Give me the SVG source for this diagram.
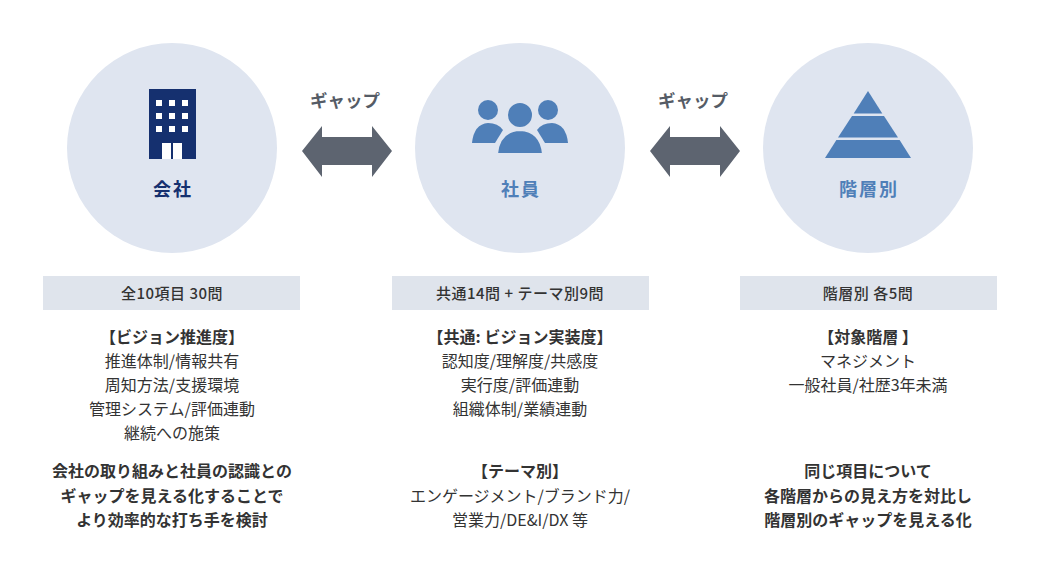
<svg xmlns="http://www.w3.org/2000/svg" width="1040" height="571" viewBox="0 0 1040 571">
<style>
text{font-family:"Noto Sans CJK JP","Noto Sans",sans-serif;text-anchor:middle;fill:#333}
.c{fill:#dfe5f0}
.t{font-size:18px;font-weight:bold;letter-spacing:2px}
.g{font-size:17.5px;font-weight:bold;fill:#555c66}
.bar{fill:#dfe4ec}
.h{font-size:15px;font-weight:500;letter-spacing:0.5px}
.b{font-size:16px;font-weight:bold}
.n{font-size:16px}
.w{fill:#fff}
</style>
<rect width="1040" height="571" fill="#fff"/>
<g id="company">
<circle class="c" cx="172" cy="148" r="105"/>
<rect x="149" y="89" width="47" height="70" fill="#15306f"/>
<g class="w">
<rect x="156" y="100" width="6" height="6"/><rect x="169" y="100" width="6" height="6"/><rect x="182" y="100" width="6" height="6"/>
<rect x="156" y="113" width="6" height="6"/><rect x="169" y="113" width="6" height="6"/><rect x="182" y="113" width="6" height="6"/>
<rect x="156" y="126" width="6" height="6"/><rect x="169" y="126" width="6" height="6"/><rect x="182" y="126" width="6" height="6"/>
<rect x="162" y="143" width="9" height="16"/><rect x="173" y="143" width="9" height="16"/>
</g>
<text class="t" x="173" y="196" style="fill:#15306f">会社</text>
</g>
<g id="employee">
<circle class="c" cx="520" cy="148" r="105"/>
<g fill="#4f7fb8">
<circle cx="488" cy="110" r="10"/><circle cx="548" cy="110" r="10"/>
<path d="M472 143 Q474 124 488 123 Q498 123 503 130 L495 143 Z"/>
<path d="M568 143 Q566 124 552 123 Q542 123 537 130 L545 143 Z"/>
<circle cx="520" cy="115" r="13" stroke="#dfe5f0" stroke-width="2"/>
<path d="M497 154 Q499 131 520 130 Q541 131 543 154 Z" stroke="#dfe5f0" stroke-width="2"/>
</g>
<text class="t" x="521" y="196" style="fill:#4f7fb8">社員</text>
</g>
<g id="level">
<circle class="c" cx="868" cy="148" r="105"/>
<g fill="#4f7fb8">
<polygon points="868,91 882.3,113.5 853.7,113.5"/>
<polygon points="852,116 884,116 898,137.5 838,137.5"/>
<polygon points="836.4,140 899.6,140 911,158 825,158"/>
</g>
<text class="t" x="869" y="196" style="fill:#4f7fb8">階層別</text>
</g>
<g id="connectors">
<polygon points="302,151 322,126 322,137 372,137 372,126 392,151 372,177 372,165 322,165 322,177" fill="#5d6470"/>
<polygon points="650,151 670,126 670,137 720,137 720,126 740,151 720,177 720,165 670,165 670,177" fill="#5d6470"/>
<text class="g" x="345" y="107">ギャップ</text>
<text class="g" x="693" y="107">ギャップ</text>
</g>
<g id="col1">
<rect class="bar" x="43" y="276" width="257" height="34"/>
<text class="h" x="172" y="299">全10項目 30問</text>
<text class="b" x="172" y="343">【ビジョン推進度】</text>
<text class="n" x="172" y="367">推進体制/情報共有</text>
<text class="n" x="172" y="391">周知方法/支援環境</text>
<text class="n" x="172" y="415">管理システム/評価連動</text>
<text class="n" x="172" y="439">継続への施策</text>
<text class="b" x="172" y="477">会社の取り組みと社員の認識との</text>
<text class="b" x="172" y="502">ギャップを見える化することで</text>
<text class="b" x="172" y="526">より効率的な打ち手を検討</text>
</g>
<g id="col2">
<rect class="bar" x="392" y="276" width="257" height="34"/>
<text class="h" x="520" y="299">共通14問 + テーマ別9問</text>
<text class="b" x="520" y="343">【共通: ビジョン実装度】</text>
<text class="n" x="520" y="367">認知度/理解度/共感度</text>
<text class="n" x="520" y="391">実行度/評価連動</text>
<text class="n" x="520" y="415">組織体制/業績連動</text>
<text class="b" x="520" y="477">【テーマ別】</text>
<text class="n" x="520" y="502">エンゲージメント/ブランド力/</text>
<text class="n" x="520" y="526">営業力/DE&amp;I/DX 等</text>
</g>
<g id="col3">
<rect class="bar" x="740" y="276" width="257" height="34"/>
<text class="h" x="868" y="299">階層別 各5問</text>
<text class="b" x="868" y="343">【対象階層 】</text>
<text class="n" x="868" y="367">マネジメント</text>
<text class="n" x="868" y="391">一般社員/社歴3年未満</text>
<text class="b" x="868" y="477">同じ項目について</text>
<text class="b" x="868" y="502">各階層からの見え方を対比し</text>
<text class="b" x="868" y="526">階層別のギャップを見える化</text>
</g>
</svg>
